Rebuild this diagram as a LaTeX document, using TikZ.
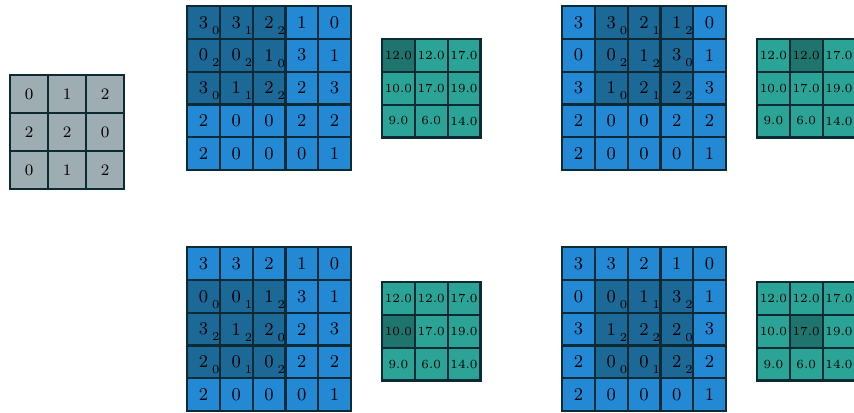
\documentclass[tikz,border=0pt]{standalone}
\usetikzlibrary{positioning}
\definecolor{kgray}{HTML}{9DADB2}
\definecolor{inblue}{HTML}{2389D5}
\definecolor{winblue}{HTML}{1C6998}
\definecolor{outteal}{HTML}{2BA396}
\definecolor{outdark}{HTML}{1F746D}
\definecolor{edge}{HTML}{0B2A33}
\newcommand{\subnum}[2]{#1\rlap{\smash{\kern2pt\raisebox{-3pt}{\fontsize{6}{6}\selectfont #2}}}}

\begin{document}
\begin{tikzpicture}[
  x=0.5pt, y=-0.5pt,
  cell/.style={draw=edge, line width=1.1pt, inner sep=0pt, outer sep=0pt, minimum size=16.4pt},
  kcell/.style={cell, fill=kgray, minimum size=19pt, font=\fontsize{8}{8}\selectfont},
  incell/.style={cell, fill=inblue, font=\fontsize{9}{9}\selectfont},
  wincell/.style={incell, fill=winblue},
  ocell/.style={cell, fill=outteal, font=\fontsize{6.2}{6.5}\selectfont},
  hicell/.style={ocell, fill=outdark}
]
\useasboundingbox (0,0) rectangle (854,412);
\clip (0,0) rectangle (854,412);

% kernel
\foreach \krow [count=\ri from 0] in {{0,1,2},{2,2,0},{0,1,2}}
  \foreach \v [count=\ci from 0] in \krow
    \node[kcell] (k-\ri-\ci) at ({29+38*\ci},{94+38*\ri}) {\v};

% input grid with the window, then the output grid
\foreach \p/\px/\py/\wr/\wc/\ox/\oy in {a/187/6/0/0/382/39, b/562/6/0/1/757/39, c/187/247/1/0/382/282, d/562/247/1/1/757/282} {
  \foreach \irow [count=\ri from 0] in {{3,3,2,1,0},{0,0,1,3,1},{3,1,2,2,3},{2,0,0,2,2},{2,0,0,0,1}}
    \foreach \v [count=\ci from 0] in \irow {
      \pgfmathtruncatemacro\wi{\ri-\wr}
      \pgfmathtruncatemacro\wj{\ci-\wc}
      \pgfmathtruncatemacro\inwin{and(and(\wi>=0,\wi<=2),and(\wj>=0,\wj<=2))}
      \ifnum\inwin=1
        \pgfmathtruncatemacro\kv{{0,1,2,2,2,0,0,1,2}[3*\wi+\wj]}
        \node[wincell] (\p-in-\ri-\ci) at ({\px+16.4+32.8*\ci},{\py+16.4+32.8*\ri}) {\subnum{\v}{\kv}};
      \else
        \node[incell] (\p-in-\ri-\ci) at ({\px+16.4+32.8*\ci},{\py+16.4+32.8*\ri}) {\v};
      \fi
    }
  \foreach \orow [count=\ri from 0] in {{12.0,12.0,17.0},{10.0,17.0,19.0},{9.0,6.0,14.0}}
    \foreach \v [count=\ci from 0] in \orow {
      \pgfmathtruncatemacro\hi{and(\ri==\wr,\ci==\wc)}
      \ifnum\hi=1
        \node[hicell] (\p-out-\ri-\ci) at ({\ox+16.4+32.8*\ci},{\oy+16.4+32.8*\ri}) {\v};
      \else
        \node[ocell] (\p-out-\ri-\ci) at ({\ox+16.4+32.8*\ci},{\oy+16.4+32.8*\ri}) {\v};
      \fi
    }
}
\end{tikzpicture}
\end{document}
